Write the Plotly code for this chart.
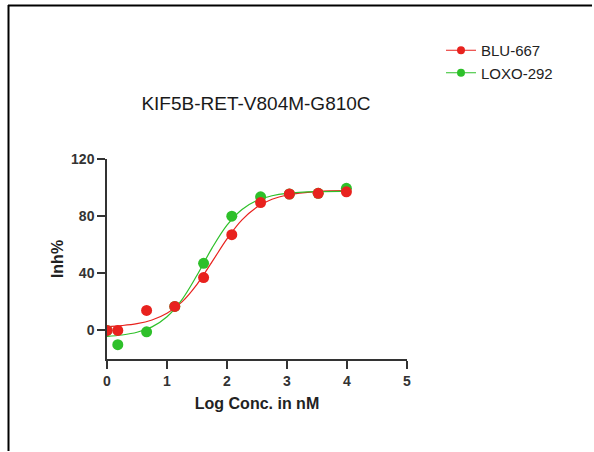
import plotly.graph_objects as go

# Data points (log concentration in nM vs inhibition %)
log_conc = [0.0, 0.18, 0.66, 1.13, 1.61, 2.08, 2.56, 3.04, 3.52, 3.99]
blu667 = [0.0, 0.0, 14.0, 16.8, 37.0, 67.0, 89.5, 95.5, 96.0, 97.0]
loxo292 = [0.0, -10.0, -1.0, 16.8, 47.0, 80.0, 93.5, 95.5, 96.0, 99.5]

# Fitted curve traces
curve_x = [0.0, 0.25, 0.5, 0.75, 1.0, 1.25, 1.5, 1.75, 2.0, 2.25, 2.5, 2.75, 3.0, 3.5, 4.0]
blu667_fit = [2.7, 3.4, 4.7, 7.3, 12.0, 20.0, 32.3, 48.0, 64.1, 77.4, 86.4, 91.8, 94.8, 97.2, 97.8]
loxo292_fit = [-4.2, -3.2, -1.3, 2.5, 9.6, 21.6, 38.6, 57.6, 73.7, 84.7, 91.0, 94.3, 96.0, 97.2, 97.4]

x_ticks = [0, 1, 2, 3, 4, 5]
y_ticks = [0, 40, 80, 120]

RED = "#e8221e"
GREEN = "#2ec02a"
FONT = "Liberation Sans, Arial, sans-serif"

fig = go.Figure()

fig.add_trace(go.Scatter(x=curve_x, y=blu667_fit, mode="lines", line=dict(color=RED, width=1.2, shape="spline"),
                         showlegend=False, hoverinfo="skip"))
fig.add_trace(go.Scatter(x=curve_x, y=loxo292_fit, mode="lines", line=dict(color=GREEN, width=1.2, shape="spline"),
                         showlegend=False, hoverinfo="skip"))
fig.add_trace(go.Scatter(x=log_conc, y=loxo292, mode="markers", name="LOXO-292",
                         marker=dict(color=GREEN, size=11), showlegend=False))
fig.add_trace(go.Scatter(x=log_conc, y=blu667, mode="markers", name="BLU-667",
                         marker=dict(color=RED, size=11), showlegend=False))
# legend entries
fig.add_trace(go.Scatter(x=[None], y=[None], mode="lines+markers", name="BLU-667",
                         line=dict(color=RED, width=1), marker=dict(color=RED, size=8)))
fig.add_trace(go.Scatter(x=[None], y=[None], mode="lines+markers", name="LOXO-292",
                         line=dict(color=GREEN, width=1), marker=dict(color=GREEN, size=8)))

L, R, T, B = 107, 187, 159, 93
W, H = 594, 452
pw, ph = W - L - R, H - T - B

def px_x(p):
    return (p - L) / pw

def px_y(p):
    return (H - B - p) / ph

fig.update_layout(
    width=W, height=H,
    margin=dict(l=L, r=R, t=T, b=B, pad=0),
    paper_bgcolor="white", plot_bgcolor="white",
    font=dict(family=FONT, color="#222222"),
    title=dict(text="KIF5B-RET-V804M-G810C", x=px_x(256), xanchor="center", xref="paper",
               y=1 - 103 / H, yanchor="middle", font=dict(size=19, color="#1a1a1a")),
    xaxis=dict(range=[0, 5], tickvals=x_ticks, showline=True, linecolor="#333333", linewidth=1.5,
               ticks="outside", ticklen=8, tickcolor="#333333", tickwidth=1.5, showgrid=False,
               zeroline=False, tickfont=dict(size=14, weight="bold", color="#333333"),
               title=dict(text="Log Conc. in nM", font=dict(size=16, weight="bold", color="#222222"), standoff=10)),
    yaxis=dict(range=[-20, 120], tickvals=y_ticks, showline=True, linecolor="#333333", linewidth=1.5,
               ticks="outside", ticklen=8, tickcolor="#333333", tickwidth=1.5, showgrid=False,
               zeroline=False, tickfont=dict(size=14, weight="bold", color="#333333"),
               title=dict(text="Inh%", font=dict(size=16, weight="bold", color="#222222"), standoff=3)),
    legend=dict(x=px_x(441), y=px_y(34), xanchor="left", yanchor="top", bgcolor="rgba(0,0,0,0)",
                font=dict(size=15, color="#222222"), itemwidth=30, tracegroupgap=4),
    shapes=[
        dict(type="line", xref="paper", yref="paper", x0=px_x(8), x1=px_x(W - 2), y0=px_y(5.5), y1=px_y(5.5),
             line=dict(color="black", width=2)),
        dict(type="line", xref="paper", yref="paper", x0=px_x(8.5), x1=px_x(8.5), y0=px_y(5), y1=px_y(H - 1),
             line=dict(color="black", width=2)),
    ],
)

fig.write_html("out.html", config={"displayModeBar": False},
               post_script="document.body.style.margin='0px';document.body.style.overflow='hidden';")
